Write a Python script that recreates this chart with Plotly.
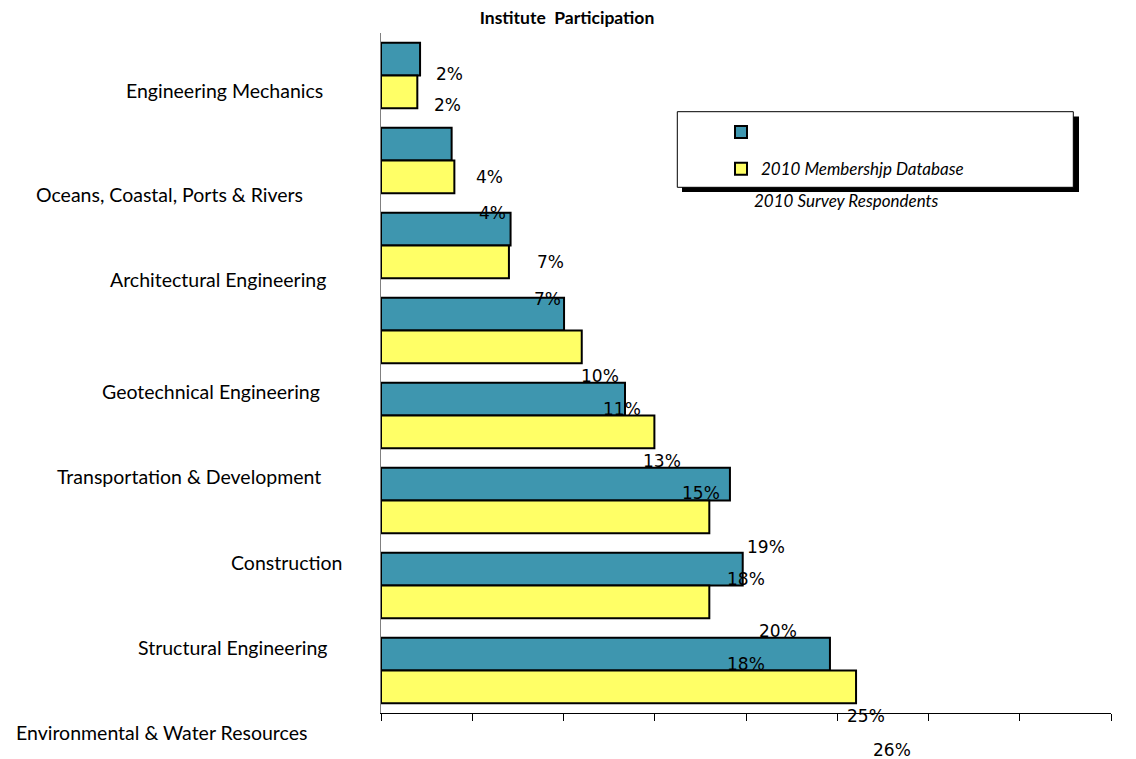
import plotly.graph_objects as go

# ---------------- data ----------------
categories = [
    "Engineering Mechanics",
    "Oceans, Coastal, Ports & Rivers",
    "Architectural Engineering",
    "Geotechnical Engineering",
    "Transportation & Development",
    "Construction",
    "Structural Engineering",
    "Environmental & Water Resources",
]
teal_values = [2.14, 3.87, 7.10, 10.03, 13.37, 19.12, 19.82, 24.60]
yellow_values = [1.99, 4.02, 7.01, 11.00, 14.98, 17.99, 17.99, 26.03]
legend_label_yellow = "2010 Membershjp Database"
legend_label_extra = "2010 Survey Respondents"
title_text = "<b>Institute  Participation</b>"
x_ticks = [0, 5, 10, 15, 20, 25, 30, 35, 40]

# ---------------- layout geometry (pixels) ----------------
W, H = 1136, 759
ML, MR, MT, MB = 381, 25, 33, 46
PW, PH = W - ML - MR, H - MT - MB


def px2x(px):
    return (px - ML) / PW


def px2y(py):
    return 1 - (py - MT) / PH


TEAL = "#3E96AF"
YELLOW = "#FFFF66"

# category label placement (center x in px, vertical shift in px)
cat_label_cx = [224.7, 169.7, 217.5, 210.9, 188.5, 286.7, 232.3, 161.7]
cat_label_shift = [15.0, 33.5, 34.0, 61.0, 60.5, 61.5, 61.5, 61.5]

# data label offsets: (x gap from bar end, y shift down from bar centre)
teal_lbl_dx = [14, 22, 24, 15, 16, 15, 14, 15]
teal_lbl_dy = [14.9, 32.4, 32.9, 61.9, 61.9, 62.6, 61.9, 61.9]
yel_lbl_dx = [14.7, 23, 23, 19, 26, 16, 16, 15]
yel_lbl_dy = [13.1, 36.4, 36.6, 61.6, 61.1, 62.1, 62.1, 63.1]

fig = go.Figure()
fig.add_trace(go.Bar(
    y=categories, x=teal_values, orientation="h", name=" ",
    legendgroup="a",
    marker=dict(color=TEAL, line=dict(color="black", width=2)),
    hoverinfo="x+y",
))
fig.add_trace(go.Bar(
    y=categories, x=yellow_values, orientation="h", name=legend_label_yellow,
    legendgroup="b",
    marker=dict(color=YELLOW, line=dict(color="black", width=2)),
    hoverinfo="x+y",
))

annotations = []
# category labels (offset from their bars, as in the original)
for cat, cx, sh in zip(categories, cat_label_cx, cat_label_shift):
    annotations.append(dict(
        text=cat, xref="paper", yref="y", x=px2x(cx), y=cat,
        xanchor="center", yanchor="middle", yshift=-sh, showarrow=False,
        font=dict(family="Lato", size=19.5, color="black"),
    ))

# value labels
group_half = 16.4
for i, cat in enumerate(categories):
    for vals, dxs, dys, sign in ((teal_values, teal_lbl_dx, teal_lbl_dy, -1),
                                  (yellow_values, yel_lbl_dx, yel_lbl_dy, 1)):
        v = vals[i]
        annotations.append(dict(
            text=f"{round(v)}%", xref="x", yref="y", x=v, y=cat,
            xanchor="left", yanchor="middle", xshift=dxs[i],
            yshift=-(sign * group_half + dys[i]), showarrow=False,
            font=dict(family="DejaVu Sans", size=17, color="black"),
        ))

# extra legend text under the legend box
annotations.append(dict(
    text=legend_label_extra, xref="paper", yref="paper",
    x=px2x(751.5), y=px2y(200), xanchor="left", yanchor="middle",
    showarrow=False,
    font=dict(family="Lato", size=17, color="black", style="italic"),
))

shapes = [
    # legend shadow
    dict(type="rect", xref="paper", yref="paper",
         x0=px2x(682), x1=px2x(1079), y0=px2y(116.5), y1=px2y(192),
         fillcolor="black", line=dict(width=0), layer="above"),
    # legend box
    dict(type="rect", xref="paper", yref="paper",
         x0=px2x(677.3), x1=px2x(1073.3), y0=px2y(111.7), y1=px2y(187.3),
         fillcolor="white", line=dict(color="black", width=1), layer="above"),
]

fig.update_layout(
    width=W, height=H,
    margin=dict(l=ML, r=MR, t=MT, b=MB, pad=0),
    paper_bgcolor="white", plot_bgcolor="white",
    barmode="group", bargap=0.228, bargroupgap=0,
    title=dict(text=title_text, x=567 / W, xanchor="center", xref="container",
               y=1 - 18 / H, yanchor="middle", yref="container",
               font=dict(family="Lato", size=17.5, color="black")),
    xaxis=dict(range=[0, 40], tickvals=x_ticks, showticklabels=False,
               ticks="outside", ticklen=7, tickcolor="black", tickwidth=1,
               showline=True, linecolor="black", linewidth=1,
               showgrid=False, zeroline=False, fixedrange=True),
    yaxis=dict(autorange="reversed", showticklabels=False, ticks="",
               showline=True, linecolor="#808080", linewidth=1,
               showgrid=False, zeroline=False, fixedrange=True),
    legend=dict(x=px2x(721), y=px2y(114.5), xanchor="left", yanchor="top",
                xref="paper", yref="paper",
                bgcolor="rgba(0,0,0,0)", borderwidth=0,
                traceorder="grouped", tracegroupgap=11.7,
                font=dict(family="Lato", size=17, color="black", style="italic")),
    annotations=annotations,
    shapes=shapes,
    showlegend=True,
)

fig.write_html(
    "out.html",
    config={"displayModeBar": False},
    post_script="document.body.style.margin='0px';document.body.style.overflow='hidden';",
)
